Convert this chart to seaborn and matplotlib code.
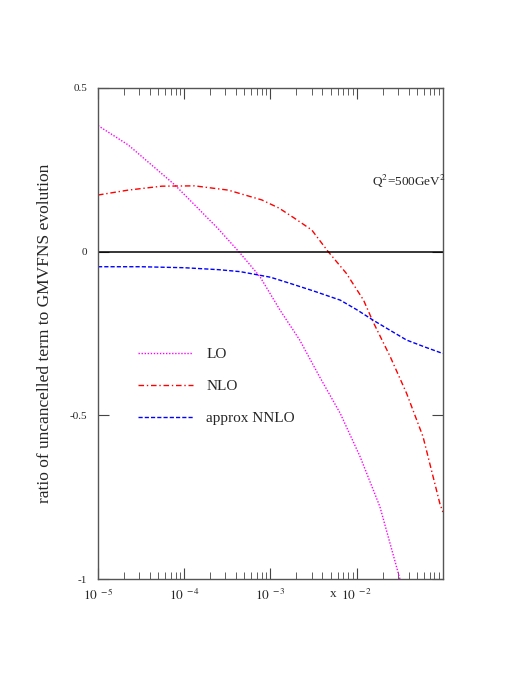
import numpy as np
import pandas as pd
import matplotlib
matplotlib.use("Agg")
import matplotlib.pyplot as plt
import seaborn as sns
from matplotlib.ticker import LogLocator, NullFormatter, FixedLocator

# values (log10 x, ratio)
lo_logx = [-5.0, -4.65, -4.38, -4.11, -3.88, -3.61, -3.35, -3.12, -2.89, -2.66, -2.43, -2.19, -1.96, -1.73, -1.50, -1.45]
lo_val = [0.385, 0.326, 0.265, 0.204, 0.143, 0.071, -0.005, -0.077, -0.178, -0.270, -0.382, -0.494, -0.626, -0.779, -0.998, -1.06]

nlo_logx = [-5.0, -4.65, -4.26, -3.88, -3.49, -3.10, -2.90, -2.72, -2.52, -2.33, -2.12, -1.92, -1.81, -1.61, -1.42, -1.23, -1.035, -1.0]
nlo_val = [0.173, 0.188, 0.200, 0.201, 0.188, 0.158, 0.133, 0.102, 0.066, 0.0, -0.066, -0.148, -0.214, -0.321, -0.433, -0.565, -0.769, -0.795]

nnlo_logx = [-5.0, -4.5, -4.0, -3.6, -3.35, -3.0, -2.77, -2.5, -2.19, -2.0, -1.81, -1.6, -1.42, -1.2, -1.0]
nnlo_val = [-0.046, -0.046, -0.049, -0.055, -0.061, -0.078, -0.097, -0.120, -0.148, -0.177, -0.209, -0.242, -0.270, -0.292, -0.311]

labels = ["LO", "NLO", "approx NNLO"]
colors = ["#ff00ff", "#ff0000", "#0000ff"]
styles = [(0, (1, 1.2)), (0, (4, 2, 1, 2)), (0, (3, 1.5))]

sns.set_style("ticks")
plt.rcParams["font.family"] = ["Liberation Serif", "DejaVu Serif"]
plt.rcParams["mathtext.fontset"] = "stix"

fig = plt.figure(figsize=(5.31, 6.87), dpi=100)
ax = fig.add_axes([0.1846, 0.157, 0.6494, 0.715])

series = [(lo_logx, lo_val), (nlo_logx, nlo_val), (nnlo_logx, nnlo_val)]
for (lx, v), lab, c, ls in zip(series, labels, colors, styles):
    df = pd.DataFrame({"x": 10.0 ** np.array(lx), "y": v})
    sns.lineplot(data=df, x="x", y="y", ax=ax, color=c, lw=1.0, label=lab)
    ax.lines[-1].set_linestyle(ls)

ax.axhline(0, color="black", lw=1.1)

ax.set_xscale("log")
ax.set_xlim(1e-5, 1e-1)
ax.set_ylim(-1, 0.5)
ax.set_xlabel("")
ax.set_ylabel("ratio of uncancelled term to GMVFNS evolution", fontsize=12.5, labelpad=12)

ax.xaxis.set_major_locator(FixedLocator([1e-5, 1e-4, 1e-3, 1e-2]))
ax.set_xticklabels([r"$10^{\ -5}$", r"$10^{\ -4}$", r"$10^{\ -3}$", r"$10^{\ -2}$"], fontsize=9.5)
ax.xaxis.set_minor_locator(LogLocator(base=10, subs=np.arange(2, 10)))
ax.xaxis.set_minor_formatter(NullFormatter())
ax.set_yticks([-1, -0.5, 0, 0.5])
ax.set_yticklabels(["-1", "-0.5", "0", "0.5"], fontsize=8)
ax.tick_params(which="both", direction="in", top=True, right=True, color="#444444")
ax.tick_params(which="major", length=8, width=0.8, pad=6)
ax.tick_params(which="minor", length=5, width=0.6)
ax.tick_params(axis="y", pad=8)
for s in ax.spines.values():
    s.set_color("#555555")
    s.set_linewidth(1.0)

# "x" label sits just left of the 1e-2 tick label
ax.text(5.8e-3, -0.018, "x", transform=ax.get_xaxis_transform(), fontsize=9.5, va="top", ha="right")
ax.text(0.794, 0.80, r"Q$^2$=500GeV$^2$", transform=ax.transAxes, fontsize=9.5)

leg = ax.legend(loc="upper left", bbox_to_anchor=(0.075, 0.50), frameon=False,
                fontsize=11, handlelength=3.6, labelspacing=1.2, handletextpad=0.9)

fig.savefig("out.png", dpi=100)
